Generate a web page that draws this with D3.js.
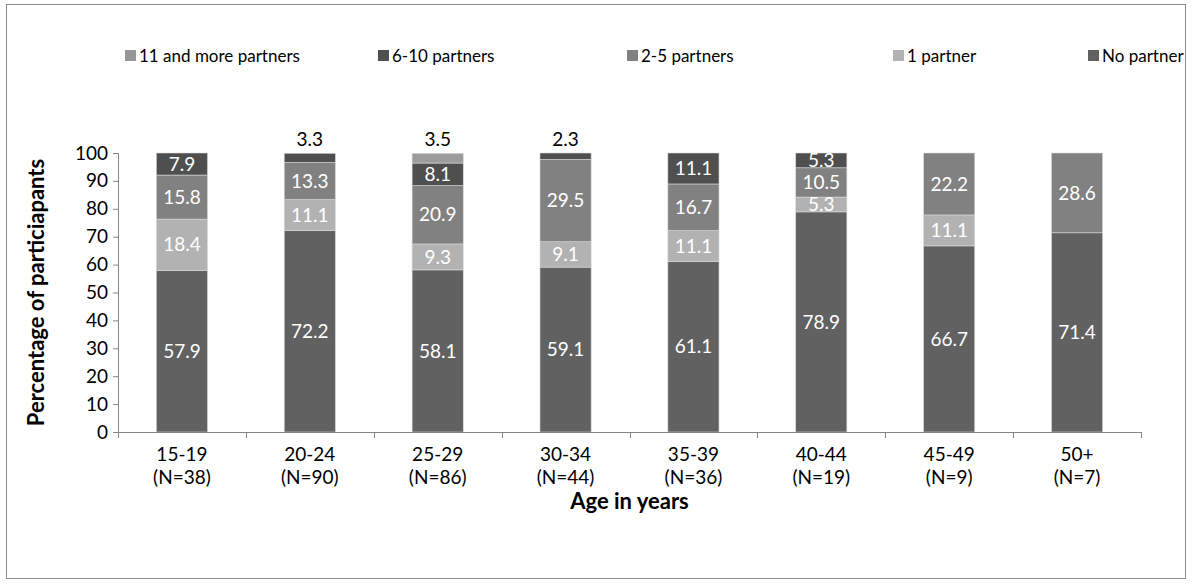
<!DOCTYPE html>
<html>
<head>
<meta charset="utf-8">
<script src="https://cdn.jsdelivr.net/npm/d3@7/dist/d3.min.js"></script>
<style>
  body { margin: 0; background: #fff; }
  svg { display: block; font-family: Lato, "Open Sans", sans-serif; }
</style>
</head>
<body>
<svg width="1192" height="584"></svg>
<script>
const ageGroups = ["15-19", "20-24", "25-29", "30-34", "35-39", "40-44", "45-49", "50+"];
const groupSizes = [38, 90, 86, 44, 36, 19, 9, 7];

const noPartner = [57.9, 72.2, 58.1, 59.1, 61.1, 78.9, 66.7, 71.4];
const onePartner = [18.4, 11.1, 9.3, 9.1, 11.1, 5.3, 11.1, 0];
const twoToFive = [15.8, 13.3, 20.9, 29.5, 16.7, 10.5, 22.2, 28.6];
const sixToTen = [7.9, 3.3, 8.1, 2.3, 11.1, 5.3, 0, 0];
const elevenPlus = [0, 0, 3.5, 0, 0, 0, 0, 0];

const seriesKeys = ["No partner", "1 partner", "2-5 partners", "6-10 partners", "11 and more partners"];
const legendOrder = ["11 and more partners", "6-10 partners", "2-5 partners", "1 partner", "No partner"];
const yTicks = [0, 10, 20, 30, 40, 50, 60, 70, 80, 90, 100];

const svg = d3.select("svg");
const width = +svg.attr("width");
const height = +svg.attr("height");

const margin = { top: 153, right: 51, bottom: 152, left: 118 };
const innerWidth = width - margin.left - margin.right;
const innerHeight = height - margin.top - margin.bottom;

const axisColor = "#868686";
const labelSize = "19px";

const color = d3.scaleOrdinal()
  .domain(seriesKeys)
  .range(["#616161", "#b2b2b2", "#818181", "#4f4f4f", "#9c9c9c"]);

// table built from the arrays
const values = [noPartner, onePartner, twoToFive, sixToTen, elevenPlus];
const data = ageGroups.map((g, i) => {
  const row = { group: g, n: groupSizes[i] };
  seriesKeys.forEach((k, j) => { row[k] = values[j][i]; });
  return row;
});

const stacked = d3.stack().keys(seriesKeys)(data);

// outer frame
svg.append("rect")
  .attr("x", 6.5).attr("y", 4.5)
  .attr("width", width - 13).attr("height", height - 10)
  .attr("fill", "none")
  .attr("stroke", "#8c8c8c");

const g = svg.append("g")
  .attr("transform", `translate(${margin.left},${margin.top})`);

const xScale = d3.scaleBand()
  .domain(ageGroups)
  .range([0, innerWidth])
  .paddingInner(0.6)
  .paddingOuter(0.3);

const yScale = d3.scaleLinear()
  .domain([0, 100])
  .range([innerHeight, 0]);

// y axis
const yAxisG = g.append("g")
  .call(d3.axisLeft(yScale).tickValues(yTicks).tickSize(5).tickPadding(5));
yAxisG.selectAll("path, line").attr("stroke", axisColor);
yAxisG.selectAll("text")
  .attr("fill", "#000")
  .style("font-size", labelSize)
  .style("font-family", "Lato, 'Open Sans', sans-serif");

g.append("text")
  .attr("transform", "rotate(-90)")
  .attr("x", -innerHeight / 2)
  .attr("y", -74)
  .attr("text-anchor", "middle")
  .style("font-size", "22px")
  .style("font-weight", "bold")
  .text("Percentage of particiapants");

// bars
const layer = g.selectAll(".layer")
  .data(stacked)
  .enter()
  .append("g")
  .attr("class", "layer")
  .attr("fill", (d) => color(d.key));

layer.selectAll("rect")
  .data((d) => d.filter((s) => s[1] - s[0] > 0))
  .enter()
  .append("rect")
  .attr("x", (d) => xScale(d.data.group))
  .attr("y", (d) => yScale(d[1]))
  .attr("width", xScale.bandwidth())
  .attr("height", (d) => yScale(d[0]) - yScale(d[1]))
  .attr("stroke", "#d9d9d9")
  .attr("stroke-width", 0.6);

// data labels
stacked.forEach((series) => {
  series.forEach((s) => {
    const v = s[1] - s[0];
    if (v <= 0) return;
    const cx = xScale(s.data.group) + xScale.bandwidth() / 2;
    const small = v < 4;
    g.append("text")
      .attr("x", cx)
      .attr("y", small ? yScale(100) - 14 : yScale((s[0] + s[1]) / 2))
      .attr("dy", "0.35em")
      .attr("text-anchor", "middle")
      .attr("fill", small ? "#000" : "#fff")
      .style("font-size", labelSize)
      .text(d3.format(".1f")(v));
  });
});

// x axis
g.append("line")
  .attr("x1", 0).attr("x2", innerWidth)
  .attr("y1", innerHeight + 0.5).attr("y2", innerHeight + 0.5)
  .attr("stroke", axisColor);

const step = xScale.step();
d3.range(ageGroups.length + 1).forEach((i) => {
  const tx = Math.round(xScale.range()[0] + i * step) + 0.5;
  g.append("line")
    .attr("x1", tx).attr("x2", tx)
    .attr("y1", innerHeight).attr("y2", innerHeight + 6)
    .attr("stroke", axisColor);
});

const xLabels = g.selectAll(".xlabel")
  .data(data)
  .enter()
  .append("text")
  .attr("class", "xlabel")
  .attr("text-anchor", "middle")
  .style("font-size", labelSize);
xLabels.append("tspan")
  .attr("x", (d) => xScale(d.group) + xScale.bandwidth() / 2)
  .attr("y", innerHeight + 29)
  .text((d) => d.group);
xLabels.append("tspan")
  .attr("x", (d) => xScale(d.group) + xScale.bandwidth() / 2)
  .attr("y", innerHeight + 52)
  .text((d) => `(N=${d.n})`);

g.append("text")
  .attr("x", innerWidth / 2)
  .attr("y", innerHeight + 77)
  .attr("text-anchor", "middle")
  .style("font-size", "22px")
  .style("font-weight", "bold")
  .text("Age in years");

// legend
const legendX = [125, 378, 627, 893, 1088];
const legend = svg.append("g")
  .selectAll("g")
  .data(legendOrder)
  .enter()
  .append("g")
  .attr("transform", (d, i) => `translate(${legendX[i]},56)`);
legend.append("rect")
  .attr("x", 0).attr("y", -6)
  .attr("width", 11).attr("height", 11)
  .attr("fill", (d) => (d === "11 and more partners" ? "#969696" : color(d)));
legend.append("text")
  .attr("x", 14)
  .attr("dy", "0.35em")
  .style("font-size", "17px")
  .text((d) => d);
</script>
</body>
</html>
